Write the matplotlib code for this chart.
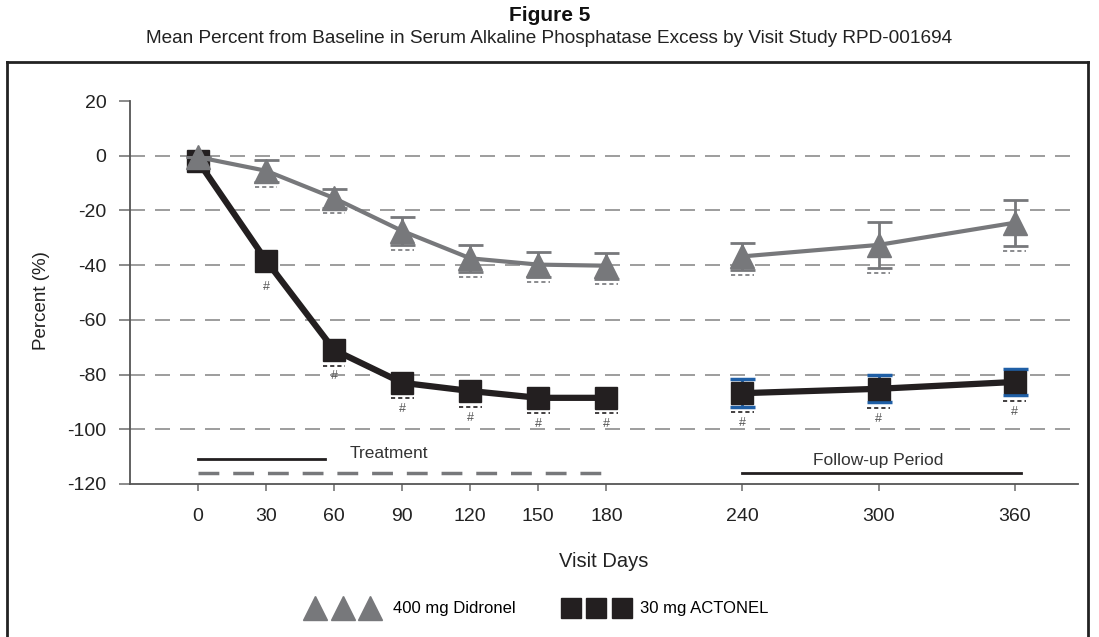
"""Figure 5: mean percent from baseline in serum alkaline phosphatase excess"""

import matplotlib
matplotlib.use('Agg')
import matplotlib.pyplot as plt
from matplotlib.lines import Line2D
import numpy as np

plt.rcParams['font.family'] = ['Liberation Sans Narrow', 'Liberation Sans', 'DejaVu Sans']
plt.rcParams['axes.unicode_minus'] = False

visit_days = [0, 30, 60, 90, 120, 150, 180, 240, 300, 360]

# 400 mg Didronel
didronel_mean = [-0.5, -5.5, -15.5, -27.5, -37.5, -39.8, -40.2, -36.8, -32.6, -24.5]
didronel_err = [0.0, 4.0, 3.5, 5.0, 5.0, 4.7, 4.8, 5.0, 8.4, 8.4]
didronel_dash = [False, True, True, True, True, True, True, True, True, True]

# 30 mg ACTONEL
actonel_mean = [-2.0, -38.3, -71.0, -83.0, -86.0, -88.5, -88.5, -86.8, -85.2, -82.7]
actonel_err = [0.0, 3.0, 3.0, 3.0, 3.0, 3.0, 3.0, 5.0, 4.9, 4.9]
actonel_dash = [False, False, True, True, True, True, True, True, True, True]
actonel_hash = [False, True, True, True, True, True, True, True, True, True]

y_ticks = [20, 0, -20, -40, -60, -80, -100, -120]
grid_levels = [0, -20, -40, -60, -80, -100]

GRAY = '#77787b'
BLACK = '#231f20'
BLUE = '#1f5fa6'


def main():
    fig = plt.figure(figsize=(10.99, 6.37), dpi=100)
    ax = fig.add_axes([0.1183, 0.2402, 0.8627, 0.6012])

    days = np.array(visit_days)
    d_mean = np.array(didronel_mean)
    d_err = np.array(didronel_err)
    a_mean = np.array(actonel_mean)
    a_err = np.array(actonel_err)

    # dashed reference lines
    for lvl in grid_levels:
        ax.axhline(lvl, color='#8c8c8c', lw=1.2, linestyle=(0, (9, 6)), zorder=0)

    # ACTONEL: treatment period errors sit behind the squares, follow-up in blue
    follow = days >= 240
    ax.errorbar(days[~follow], a_mean[~follow], yerr=a_err[~follow], fmt='none',
                ecolor=BLACK, elinewidth=2, capsize=6, capthick=2, zorder=2)
    ax.errorbar(days[follow], a_mean[follow], yerr=a_err[follow], fmt='none',
                ecolor=BLUE, elinewidth=2, capsize=9, capthick=2.5, zorder=2)
    ax.errorbar(days, d_mean, yerr=d_err, fmt='none', ecolor=GRAY,
                elinewidth=2, capsize=9, capthick=2, zorder=4)

    # lines are split into treatment and follow-up segments
    for mask in (~follow, follow):
        ax.plot(days[mask], a_mean[mask], color=BLACK, lw=4.5, marker='s',
                markersize=16, zorder=3)
        ax.plot(days[mask], d_mean[mask], color=GRAY, lw=3, marker='^',
                markersize=17, zorder=5)

    # significance markers
    for i, day in enumerate(visit_days):
        if didronel_dash[i]:
            y = d_mean[i] - d_err[i] - 1.8
            ax.plot([day - 5, day + 5], [y, y], color=GRAY, lw=1.2,
                    linestyle=(0, (2.5, 1.8)), zorder=4)
        low = a_mean[i] - max(a_err[i], 3.7) - 2.0
        if actonel_dash[i]:
            ax.plot([day - 5, day + 5], [low, low], color=BLACK, lw=1.2,
                    linestyle=(0, (2.5, 1.8)), zorder=4)
        if actonel_hash[i]:
            ax.text(day, low - 4.0, '#', ha='center', va='center',
                    fontsize=9, color='#555555')

    # treatment / follow-up period bars
    ax.plot([0, 56], [-111, -111], color=BLACK, lw=2)
    ax.plot([0, 180], [-116, -116], color=GRAY, lw=2.5, linestyle=(0, (6, 4)))
    ax.text(67, -109, 'Treatment', ha='left', va='center', fontsize=12.5, color='#333333')
    ax.plot([240, 363], [-116, -116], color=BLACK, lw=2)
    ax.text(300, -111.5, 'Follow-up Period', ha='center', va='center', fontsize=12.5,
            color='#333333')

    ax.set_xlim(-30, 388)
    ax.set_ylim(-120, 20)
    ax.set_xticks(visit_days)
    ax.set_xticklabels([str(d) for d in visit_days])
    ax.set_yticks(y_ticks)
    ax.tick_params(axis='both', labelsize=14, colors='#777777', labelcolor='#222222')
    ax.tick_params(axis='y', length=8, width=1.2, pad=9)
    ax.tick_params(axis='x', length=5, width=1.2, pad=12)
    for side in ('top', 'right'):
        ax.spines[side].set_visible(False)
    for side in ('left', 'bottom'):
        ax.spines[side].set_color('#555555')
        ax.spines[side].set_linewidth(1.3)

    ax.set_xlabel('Visit Days', fontsize=14.5, labelpad=20, color='#222222')
    ax.set_ylabel('Percent (%)', fontsize=13.5, color='#222222')
    ax.yaxis.set_label_coords(-0.084, 0.48)

    fig.text(0.5, 0.975, 'Figure 5', ha='center', va='center', fontsize=15,
             fontweight='bold', color='#111111')
    fig.text(0.5, 0.94, 'Mean Percent from Baseline in Serum Alkaline Phosphatase '
             'Excess by Visit Study RPD-001694', ha='center', va='center',
             fontsize=13.7, color='#222222')

    # outer frame
    frame_kw = dict(color='#222222', lw=2, transform=fig.transFigure)
    fig.add_artist(Line2D([0.0064, 0.99], [0.9027, 0.9027], **frame_kw))
    fig.add_artist(Line2D([0.0064, 0.0064], [0.0, 0.9027], **frame_kw))
    fig.add_artist(Line2D([0.99, 0.99], [0.0, 0.9027], **frame_kw))

    # two separate legends so each handle gets its own marker spacing
    tri = Line2D([], [], color=GRAY, marker='^', markersize=17, linestyle='none')
    sq = Line2D([], [], color=BLACK, marker='s', markersize=15, linestyle='none')
    leg_kw = dict(loc='center left', frameon=False, numpoints=3, fontsize=12,
                  borderpad=0, borderaxespad=0)
    fig.legend([tri], ['400 mg Didronel'], bbox_to_anchor=(0.2825, 0.044),
               handlelength=3.87, handletextpad=1.08, **leg_kw)
    fig.legend([sq], ['30 mg ACTONEL'], bbox_to_anchor=(0.5146, 0.044),
               handlelength=3.66, handletextpad=0.81, **leg_kw)

    fig.savefig('out.png', dpi=100)


if __name__ == '__main__':
    main()
